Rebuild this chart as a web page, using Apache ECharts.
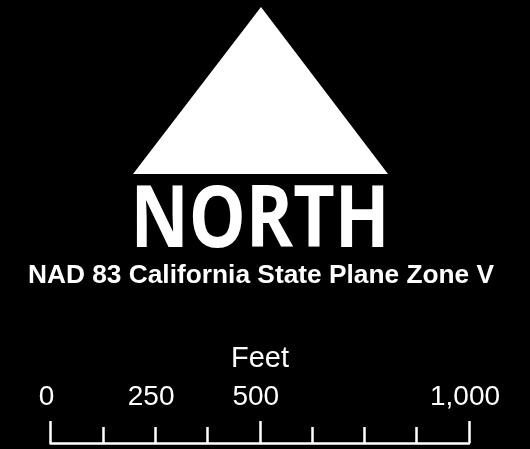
<!DOCTYPE html>
<html>
<head>
    <meta charset="utf-8" />
    <script src="https://cdn.jsdelivr.net/npm/echarts@6.0.0/dist/echarts.min.js"></script>
    <style>
        body { margin: 0; background: #000; }
        #main { width: 530px; height: 449px; }
    </style>
</head>
<body>
    <div id="main"></div>
<script type="text/javascript">
    // scale bar data
    var scaleMin = 0;
    var scaleMax = 1000;
    var scaleStep = 125;                 // minor divisions
    var labelValues = [0, 250, 500, 1000]; // labelled distances
    var majorValues = [0, 500, 1000];      // longer ticks
    var unitName = 'Feet';
    var arrowText = 'NORTH';
    var projText = 'NAD 83 California State Plane Zone V';

    function fmt(v) {
        return String(v).replace(/\B(?=(\d{3})+(?!\d))/g, ',');
    }

    var chart = echarts.init(document.getElementById('main'));

    var option = {
        backgroundColor: '#000',
        animation: false,
        grid: {
            left: 50.5,
            right: 61,
            bottom: 6,
            height: 20,
            containLabel: false,
            outerBoundsMode: 'none'
        },
        xAxis: [
            {
                type: 'value',
                min: scaleMin,
                max: scaleMax,
                interval: scaleStep,
                position: 'bottom',
                axisLine: { show: true, lineStyle: { color: '#fff', width: 2.5 } },
                axisTick: { show: true, inside: true, length: 16, lineStyle: { color: '#fff', width: 2.5 } },
                axisLabel: {
                    show: true,
                    inside: true,
                    customValues: labelValues,
                    formatter: fmt,
                    color: '#fff',
                    fontFamily: 'Liberation Sans',
                    fontSize: 28,
                    verticalAlign: 'middle',
                    padding: [0, 8, 0, 0],
                    margin: 46
                },
                splitLine: { show: false }
            },
            {
                type: 'value',
                min: scaleMin,
                max: scaleMax,
                position: 'bottom',
                axisLine: { show: false },
                axisTick: { show: true, inside: true, length: 22, customValues: majorValues, lineStyle: { color: '#fff', width: 2.5 } },
                axisLabel: { show: false },
                splitLine: { show: false }
            }
        ],
        yAxis: { type: 'value', show: false },
        series: [],
        graphic: [
            {
                type: 'polygon',
                shape: { points: [[261, 7], [133, 174], [388, 174]] },
                style: { fill: '#fff' }
            },
            {
                type: 'text',
                x: 260,
                y: 223,
                scaleX: 0.815,
                scaleY: 0.97,
                style: {
                    text: arrowText,
                    fill: '#fff',
                    font: 'bold 88px "Open Sans"',
                    align: 'center',
                    verticalAlign: 'middle'
                }
            },
            {
                type: 'text',
                x: 261,
                y: 276,
                style: {
                    text: projText,
                    fill: '#fff',
                    font: 'bold 26.3px "Liberation Sans"',
                    align: 'center',
                    verticalAlign: 'middle'
                }
            },
            {
                type: 'text',
                x: 260,
                y: 359,
                style: {
                    text: unitName,
                    fill: '#fff',
                    font: '29px "Liberation Sans"',
                    align: 'center',
                    verticalAlign: 'middle'
                }
            }
        ]
    };

    chart.setOption(option);
</script>
</body>
</html>
